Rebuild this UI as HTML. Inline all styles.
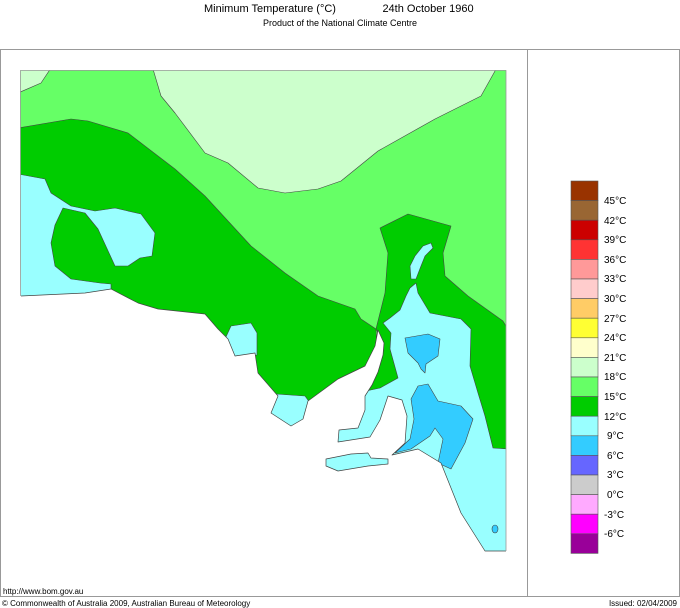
<!DOCTYPE html>
<html><head><meta charset="utf-8"><style>
html,body{margin:0;padding:0;background:#fff;}
body{width:680px;height:608px;position:relative;overflow:hidden;font-family:"Liberation Sans",sans-serif;}
</style></head><body>
<svg width="680" height="608" viewBox="0 0 680 608" xmlns="http://www.w3.org/2000/svg" style="position:absolute;left:0;top:0">
<defs>
<clipPath id="land">
<polygon points="20,70 506,70 506,551 485,551 461,513 441,463 418,449 392,455 405,443 407,416 402,400 388,396 380,420 370,437 338,442 339,430 358,428 365,410 365,396 372,385 378,372 383,355 384,343 378,330 375,346 365,366 338,379 308,401 303,419 291,426 271,413 278,396 258,373 255,353 235,356 228,339 218,329 205,314 158,309 138,303 111,289 85,293 21,296"/>
<polygon points="326,459 351,454 368,453 371,458 388,459 388,464 368,466 338,471 326,466"/>
</clipPath>
</defs>
<text x="270" y="12" font-size="11" text-anchor="middle" fill="#000">Minimum Temperature (°C)</text>
<text x="428" y="12" font-size="11" text-anchor="middle" fill="#000">24th October 1960</text>
<text x="340" y="26" font-size="9" text-anchor="middle" fill="#000">Product of the National Climate Centre</text>
<rect x="0.5" y="49.5" width="679" height="547" fill="none" stroke="#999" stroke-width="1"/>
<line x1="527.5" y1="49" x2="527.5" y2="597" stroke="#999"/>
<g clip-path="url(#land)" stroke="#444" stroke-width="0.6" stroke-linejoin="round">
<rect x="18" y="68" width="492" height="490" fill="#66ff66" stroke="none"/>
<polygon fill="#ccffcc" points="153,69 161,96 175,113 205,153 228,163 258,188 285,193 318,189 341,181 378,151 435,119 481,96 495,71 495,66 153,66"/>
<polygon fill="#ccffcc" points="18,68 51,68 41,83 18,93"/>
<polygon fill="#00cc00" points="18,128 71,119 88,121 128,133 158,156 175,169 205,196 251,246 285,273 318,296 355,309 361,319 376,329 380,420 18,420"/>
<polygon fill="#99ffff" points="18,174 45,179 51,193 71,206 95,211 115,208 141,214 155,233 152,256 140,258 128,266 115,266 98,229 85,213 63,208 55,225 51,243 55,266 71,279 100,283 111,284 111,300 18,300"/>
<polygon fill="#99ffff" points="231,326 251,323 257,333 257,355 235,358 225,339"/>
<polygon fill="#99ffff" points="276,394 305,396 310,403 301,428 285,428 271,413"/>
<polygon fill="#00cc00" points="380,228 408,214 451,226 443,253 445,276 468,296 503,321 510,333 510,600 360,600 365,396 372,385 378,372 383,355 384,343 376,329 385,293 388,253"/>
<polygon fill="#99ffff" points="383,323 391,333 390,349 398,378 380,388 366,391 360,400 320,420 320,600 510,600 510,449 493,448 485,416 478,393 470,366 471,329 461,319 430,313 418,293 416,283 410,288 406,296 400,310 390,318"/>
<polygon fill="#33ccff" points="405,338 428,334 440,339 438,356 426,364 425,373 421,369 418,363 408,353"/>
<polygon fill="#33ccff" points="418,386 428,384 438,401 461,406 473,419 465,443 451,469 438,463 443,439 435,428 430,436 411,449 395,453 410,439 414,419 411,399"/>
<ellipse cx="495" cy="529" rx="3" ry="4" fill="#33ccff"/>
</g>
<polygon fill="#99ffff" stroke="#444" stroke-width="0.6" points="423,246 431,243 433,248 425,256 421,266 416,279 411,279 410,266 415,256"/>
<g fill="none" stroke="#444" stroke-width="0.7" stroke-linejoin="round">
<polyline points="506,551 485,551 461,513 441,463 418,449 392,455 405,443 407,416 402,400 388,396 380,420 370,437 338,442 339,430 358,428 365,410 365,396 372,385 378,372 383,355 384,343 378,330 375,346 365,366 338,379 308,401 303,419 291,426 271,413 278,396 258,373 255,353 235,356 228,339 218,329 205,314 158,309 138,303 111,289 85,293 21,296"/>
<polygon points="326,459 351,454 368,453 371,458 388,459 388,464 368,466 338,471 326,466"/>
</g>
<polyline points="20.5,296 20.5,70.5 506,70.5 506,551" fill="none" stroke="#999" stroke-width="0.8"/>
<g stroke="#555" stroke-width="0.6">
<rect x="571" y="181" width="27" height="19.6" fill="#993300"/>
<rect x="571" y="200.6" width="27" height="19.6" fill="#996633"/>
<rect x="571" y="220.2" width="27" height="19.6" fill="#cc0000"/>
<rect x="571" y="239.8" width="27" height="19.6" fill="#ff3333"/>
<rect x="571" y="259.4" width="27" height="19.6" fill="#ff9999"/>
<rect x="571" y="279" width="27" height="19.6" fill="#ffcccc"/>
<rect x="571" y="298.6" width="27" height="19.6" fill="#ffcc66"/>
<rect x="571" y="318.2" width="27" height="19.6" fill="#ffff33"/>
<rect x="571" y="337.8" width="27" height="19.6" fill="#ffffcc"/>
<rect x="571" y="357.4" width="27" height="19.6" fill="#ccffcc"/>
<rect x="571" y="377" width="27" height="19.6" fill="#66ff66"/>
<rect x="571" y="396.6" width="27" height="19.6" fill="#00cc00"/>
<rect x="571" y="416.2" width="27" height="19.6" fill="#99ffff"/>
<rect x="571" y="435.8" width="27" height="19.6" fill="#33ccff"/>
<rect x="571" y="455.4" width="27" height="19.6" fill="#6666ff"/>
<rect x="571" y="475" width="27" height="19.6" fill="#cccccc"/>
<rect x="571" y="494.6" width="27" height="19.6" fill="#ffaaff"/>
<rect x="571" y="514.2" width="27" height="19.6" fill="#ff00ff"/>
<rect x="571" y="533.8" width="27" height="19.6" fill="#990099"/>
</g>
<g font-size="10" fill="#000">
<text x="604" y="204">45°C</text>
<text x="604" y="224">42°C</text>
<text x="604" y="243">39°C</text>
<text x="604" y="263">36°C</text>
<text x="604" y="282">33°C</text>
<text x="604" y="302">30°C</text>
<text x="604" y="322">27°C</text>
<text x="604" y="341">24°C</text>
<text x="604" y="361">21°C</text>
<text x="604" y="380">18°C</text>
<text x="604" y="400">15°C</text>
<text x="604" y="420">12°C</text>
<text x="607" y="439">9°C</text>
<text x="607" y="459">6°C</text>
<text x="607" y="478">3°C</text>
<text x="607" y="498">0°C</text>
<text x="604" y="518">-3°C</text>
<text x="604" y="537">-6°C</text>
</g>
<text x="3" y="594" font-size="8" fill="#000">http://www.bom.gov.au</text>
<text x="2" y="606" font-size="8" fill="#000">© Commonwealth of Australia 2009, Australian Bureau of Meteorology</text>
<text x="677" y="606" font-size="8" fill="#000" text-anchor="end">Issued: 02/04/2009</text>
</svg>
</body></html>
